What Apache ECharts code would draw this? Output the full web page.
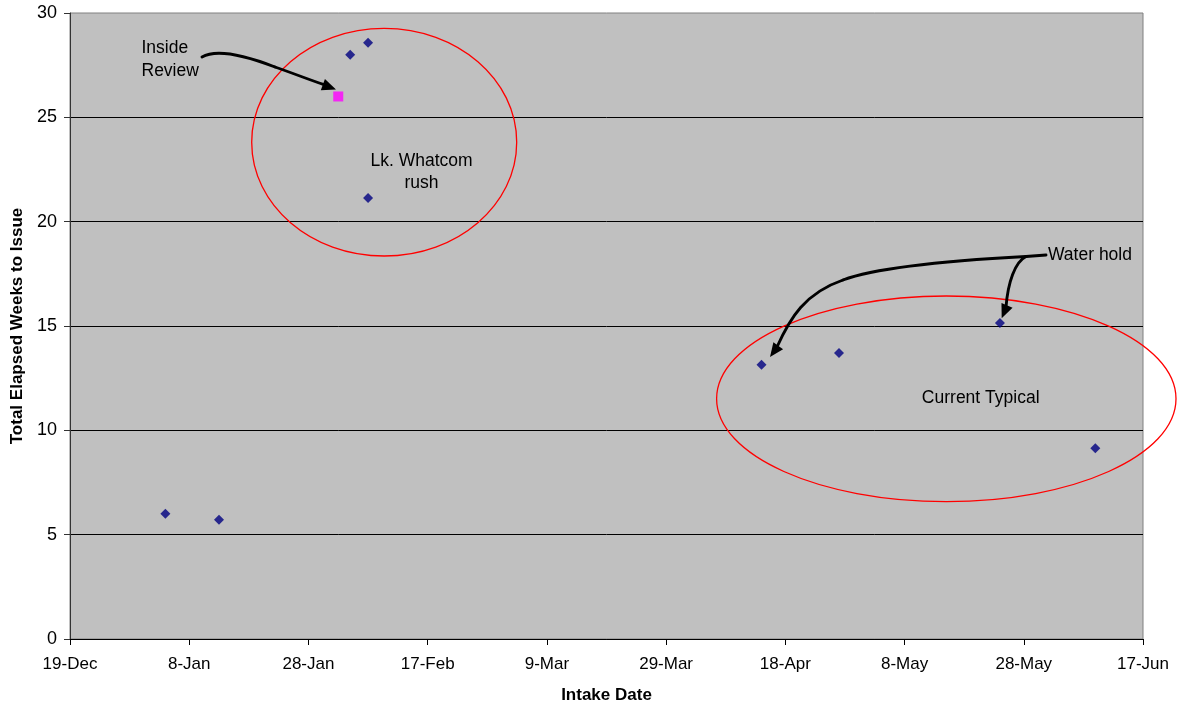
<!DOCTYPE html>
<html>
<head>
<meta charset="utf-8">
<script src="https://cdn.jsdelivr.net/npm/echarts@6/dist/echarts.min.js"></script>
<style>
html,body{margin:0;padding:0;background:#fff;}
#chart{width:1177px;height:709px;}
</style>
</head>
<body>
<div id="chart"></div>
<script>
// ---- data ----
const baseDate = '2006-12-19';
const typicalDates = ['2007-01-04','2007-01-13','2007-02-04','2007-02-07','2007-02-07','2007-04-14','2007-04-27','2007-05-24','2007-06-09'];
const typicalWeeks = [6.00, 5.71, 28.00, 28.57, 21.14, 13.14, 13.71, 15.14, 9.14];
const reviewDates = ['2007-02-02'];
const reviewWeeks = [26.00];
const monthNames = ['Jan','Feb','Mar','Apr','May','Jun','Jul','Aug','Sep','Oct','Nov','Dec'];
const xMin = 0, xMax = 180, xInterval = 20;
const yMin = 0, yMax = 30, yInterval = 5;

const DAY = 86400000;
const base = Date.parse(baseDate + 'T00:00:00Z');
function dayOf(s){ return Math.round((Date.parse(s + 'T00:00:00Z') - base) / DAY); }
function labelOf(v){ const d = new Date(base + v * DAY); return d.getUTCDate() + '-' + monthNames[d.getUTCMonth()]; }

const FONT = '"Liberation Sans", Arial, sans-serif';
const chart = echarts.init(document.getElementById('chart'));

const option = {
  animation: false,
  grid: { left: 70, right: 34, top: 13, bottom: 68, show: true, backgroundColor: '#C0C0C0', borderColor: '#808080', borderWidth: 1 },
  xAxis: {
    type: 'value', min: xMin, max: xMax, interval: xInterval,
    name: 'Intake Date', nameLocation: 'middle', nameGap: 48,
    nameTextStyle: { fontFamily: FONT, fontSize: 17, fontWeight: 'bold', color: '#000' },
    axisLine: { show: true, lineStyle: { color: '#000', width: 1 } },
    axisTick: { show: true, length: 6, lineStyle: { color: '#000' } },
    axisLabel: { formatter: labelOf, fontFamily: FONT, fontSize: 17, color: '#000', margin: 17 },
    splitLine: { show: false }
  },
  yAxis: {
    type: 'value', min: yMin, max: yMax, interval: yInterval,
    name: 'Total Elapsed Weeks to Issue', nameLocation: 'middle', nameGap: 44,
    nameTextStyle: { fontFamily: FONT, fontSize: 17, fontWeight: 'bold', color: '#000' },
    axisLine: { show: true, lineStyle: { color: '#333', width: 1 } },
    axisTick: { show: true, length: 6, lineStyle: { color: '#333' } },
    axisLabel: { fontFamily: FONT, fontSize: 18, color: '#000', margin: 13 },
    splitLine: { show: true, showMaxLine: false, lineStyle: { color: '#000', width: 1 } }
  },
  series: [
    { type: 'scatter', symbol: 'diamond', symbolSize: 10, itemStyle: { color: '#000080' },
      data: typicalDates.map((d, i) => [dayOf(d), typicalWeeks[i]]) },
    { type: 'scatter', symbol: 'rect', symbolSize: 10, itemStyle: { color: '#FF00FF' },
      data: reviewDates.map((d, i) => [dayOf(d), reviewWeeks[i]]) }
  ]
};
chart.setOption(option);

// ---- annotations ----
function head(tip, dir, len, hw){
  const n = Math.hypot(dir[0], dir[1]); const ux = dir[0]/n, uy = dir[1]/n;
  const bx = tip[0] - ux*len, by = tip[1] - uy*len;
  return { type: 'polygon', z: 100, shape: { points: [tip, [bx - uy*hw, by + ux*hw], [bx + uy*hw, by - ux*hw]] }, style: { fill: '#000' } };
}
function bez(p0, c1, c2, p1){
  return { type: 'bezierCurve', z: 100, shape: { x1: p0[0], y1: p0[1], cpx1: c1[0], cpy1: c1[1], cpx2: c2[0], cpy2: c2[1], x2: p1[0], y2: p1[1] },
    style: { stroke: '#000', lineWidth: 2.9, fill: null, lineCap: 'round' } };
}
function txt(s, x, y, align, lh){
  return { type: 'text', z: 100, style: { text: s, x: x, y: y, font: '17.5px ' + FONT, fill: '#000',
    align: align, textAlign: align, verticalAlign: 'middle', textVerticalAlign: 'middle', lineHeight: lh || 22 } };
}
const graphics = [
  { type: 'ellipse', z: 90, shape: { cx: 384.2, cy: 142.2, rx: 132.5, ry: 113.8 }, style: { stroke: '#FF0000', lineWidth: 1.3, fill: null } },
  { type: 'ellipse', z: 90, shape: { cx: 946.3, cy: 398.8, rx: 229.7, ry: 102.8 }, style: { stroke: '#FF0000', lineWidth: 1.3, fill: null } },
  bez([202, 57], [214, 50], [236, 52], [275, 67]),
  bez([275, 67], [295, 74], [310, 80], [325, 85]),
  head([336, 89.5], [61, 22.5], 14, 6),
  bez([1046, 255], [1040, 255.5], [1032, 256], [1026, 256.5]),
  bez([1026, 256.5], [960, 260], [880, 266], [843, 280]),
  bez([843, 280], [805, 293], [790, 318], [777, 347]),
  head([770, 357], [-0.59, 0.81], 14, 6),
  bez([1026, 256.5], [1015, 262], [1008, 282], [1006, 307]),
  head([1001.7, 318.3], [-0.38, 0.925], 14, 6),
  txt('Inside\nReview', 141.5, 59.75, 'left', 22.5),
  txt('Lk. Whatcom\nrush', 421.5, 172.25, 'center', 21.5),
  txt('Current Typical', 980.7, 398, 'center'),
  txt('Water hold', 1048, 255, 'left')
];
chart.setOption({ graphic: { elements: graphics } });
</script>
</body>
</html>
